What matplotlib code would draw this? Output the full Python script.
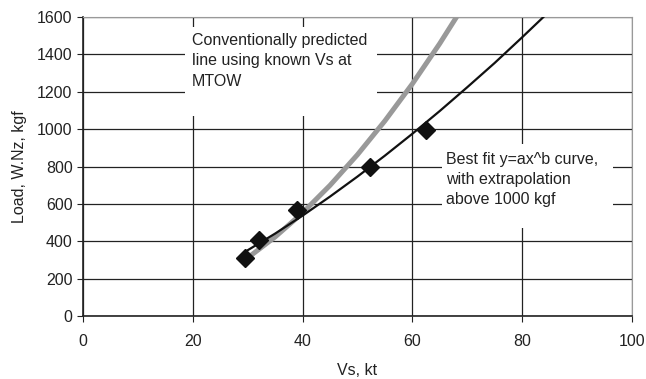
import numpy as np
import matplotlib.pyplot as plt
from matplotlib.patches import Rectangle

plt.rcParams['font.family'] = ['Liberation Sans', 'DejaVu Sans']

# test points (diamonds)
vs_pts = [29.5, 32.1, 39.0, 52.3, 62.5]
load_pts = [310, 407, 567, 797, 995]

# best fit y=ax^b curve
fit_vs = [29.5, 35, 40, 45, 50, 55, 60, 65, 70, 75, 80, 85]
fit_load = [343, 441, 537, 639, 746, 858, 975, 1097, 1224, 1354, 1491, 1631]

# conventionally predicted line (grey)
conv_vs = [30, 35, 40, 45, 50, 55, 60, 65, 70]
conv_load = [311, 423, 552, 699, 863, 1044, 1242, 1458, 1690]

x_ticks = [0, 20, 40, 60, 80, 100]
y_ticks = [0, 200, 400, 600, 800, 1000, 1200, 1400, 1600]

fig = plt.figure(figsize=(6.46, 3.79), dpi=100)
ax = fig.add_axes([0.1285, 0.1662, 0.8495, 0.7888])

ax.grid(True, color='#222222', linewidth=0.9)
ax.set_axisbelow(True)

ax.plot(conv_vs, conv_load, color='#999999', linewidth=3.6, zorder=3,
        solid_capstyle='butt')
ax.plot(fit_vs, fit_load, color='#111111', linewidth=1.6, zorder=4)
ax.plot(vs_pts, load_pts, linestyle='none', marker='D', markersize=9,
        color='#111111', zorder=5)

# white label backgrounds hiding the grid
ax.add_patch(Rectangle((18.6, 1070), 35.0, 476, facecolor='white',
                       edgecolor='none', zorder=1.5))
ax.add_patch(Rectangle((65.4, 471), 31.1, 449, facecolor='white',
                       edgecolor='none', zorder=1.5))

ax.text(19.8, 1515, 'Conventionally predicted\nline using known Vs at\nMTOW',
        fontsize=11.5, va='top', ha='left', linespacing=1.45, color='#222222',
        zorder=2)
ax.text(66.1, 880, 'Best fit y=ax^b curve,\nwith extrapolation\nabove 1000 kgf',
        fontsize=11.5, va='top', ha='left', linespacing=1.42, color='#222222',
        zorder=2)

ax.set_xlim(0, 100)
ax.set_ylim(0, 1600)
ax.set_xticks(x_ticks)
ax.set_yticks(y_ticks)
ax.tick_params(labelsize=11.5, colors='#222222', length=4, direction='out')
ax.tick_params(axis='x', pad=9)

for s in ['top', 'right']:
    ax.spines[s].set_color('#999999')
for s in ['left', 'bottom']:
    ax.spines[s].set_color('#222222')
    ax.spines[s].set_linewidth(1.2)

ax.set_xlabel('Vs, kt', fontsize=11.5, color='#222222', labelpad=10)
ax.set_ylabel('Load, W.Nz, kgf', fontsize=11.5, color='#222222', labelpad=7)

fig.savefig('out.png', dpi=100)
